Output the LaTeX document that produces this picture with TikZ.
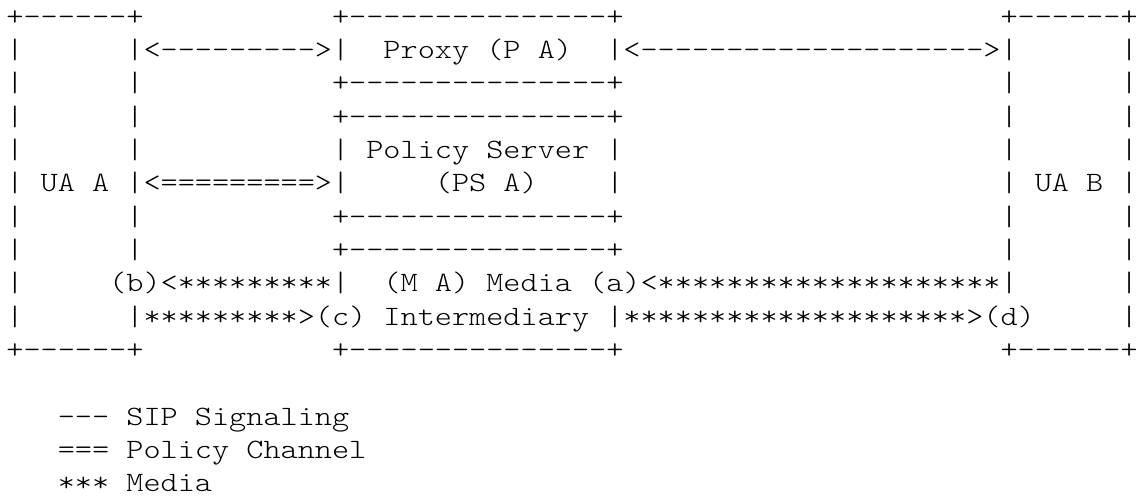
\documentclass[tikz,border=0pt]{standalone}
\usepackage{fontspec}
% light typewriter face, widened so that one column is 8.569pt
\setmonofont{lmmonolt10-regular.otf}[FakeStretch=1.1659]
\begin{document}
% Character grid: x = one column, y = one text line (downwards)
\begin{tikzpicture}[x=8.569pt, y=-16.665pt,
  ch/.style={anchor=base west, inner sep=0pt, outer sep=0pt,
             font=\fontsize{14}{17}\selectfont\ttfamily, text=black}]
\useasboundingbox (-0.3734,-0.75) rectangle (65.904,14.101);

% ---- UA A box (columns 0..7) ----
\node[ch] (uaA-top) at (0,0)  {+------+};
\node[ch] (uaA-bot) at (0,10) {+------+};
\foreach \r in {1,...,9} \node[ch] (uaA-l\r) at (0,\r) {|};
\foreach \r in {1,...,7,9} \node[ch] (uaA-r\r) at (7,\r) {|};
\node[ch] (uaA) at (2,5) {UA A};

% ---- UA B box (columns 58..65) ----
\node[ch] (uaB-top) at (58,0)  {+------+};
\node[ch] (uaB-bot) at (58,10) {+------+};
\foreach \r in {1,...,8} \node[ch] (uaB-l\r) at (58,\r) {|};
\foreach \r in {1,...,9} \node[ch] (uaB-r\r) at (65,\r) {|};
\node[ch] (uaB) at (60,5) {UA B};

% ---- Proxy box (columns 19..35, rows 0..2) ----
\node[ch] (pA-top) at (19,0) {+---------------+};
\node[ch] (pA-l)   at (19,1) {|};
\node[ch] (pA)     at (22,1) {Proxy (P A)};
\node[ch] (pA-r)   at (35,1) {|};
\node[ch] (pA-bot) at (19,2) {+---------------+};

% ---- Policy server box (rows 3..6) ----
\node[ch] (psA-top) at (19,3) {+---------------+};
\node[ch] (psA-l4)  at (19,4) {|};
\node[ch] (psA-r4)  at (35,4) {|};
\node[ch] (psA-l5)  at (19,5) {|};
\node[ch] (psA-r5)  at (35,5) {|};
\node[ch] (psA)     at (21,4) {Policy Server};
\node[ch] (psA-id)  at (25,5) {(PS A)};
\node[ch] (psA-bot) at (19,6) {+---------------+};

% ---- Media intermediary box (rows 7..10) ----
\node[ch] (mA-top) at (19,7)  {+---------------+};
\node[ch] (mA-l8)  at (19,8)  {|};
\node[ch] (mA-r9)  at (35,9)  {|};
\node[ch] (mA)     at (22,8)  {(M A) Media};
\node[ch] (mA-2)   at (22,9)  {Intermediary};
\node[ch] (mA-bot) at (19,10) {+---------------+};

% ---- SIP signaling ----
\node[ch] (sipA) at (8,1)  {<--------->};
\node[ch] (sipB) at (36,1) {<-------------------->};

% ---- Policy channel ----
\node[ch] (pol) at (8,5) {<=========>};

% ---- Media paths and their ports ----
\node[ch] (b)    at (6,8)  {(b)};
\node[ch] (medb) at (9,8)  {<*********};
\node[ch] (a)    at (34,8) {(a)};
\node[ch] (meda) at (37,8) {<********************};
\node[ch] (medc) at (8,9)  {*********>};
\node[ch] (c)    at (18,9) {(c)};
\node[ch] (medd) at (36,9) {********************>};
\node[ch] (d)    at (57,9) {(d)};

% ---- Legend ----
\node[ch] (key1) at (3,12) {--- SIP Signaling};
\node[ch] (key2) at (3,13) {=== Policy Channel};
\node[ch] (key3) at (3,14) {*** Media};
\end{tikzpicture}
\end{document}
